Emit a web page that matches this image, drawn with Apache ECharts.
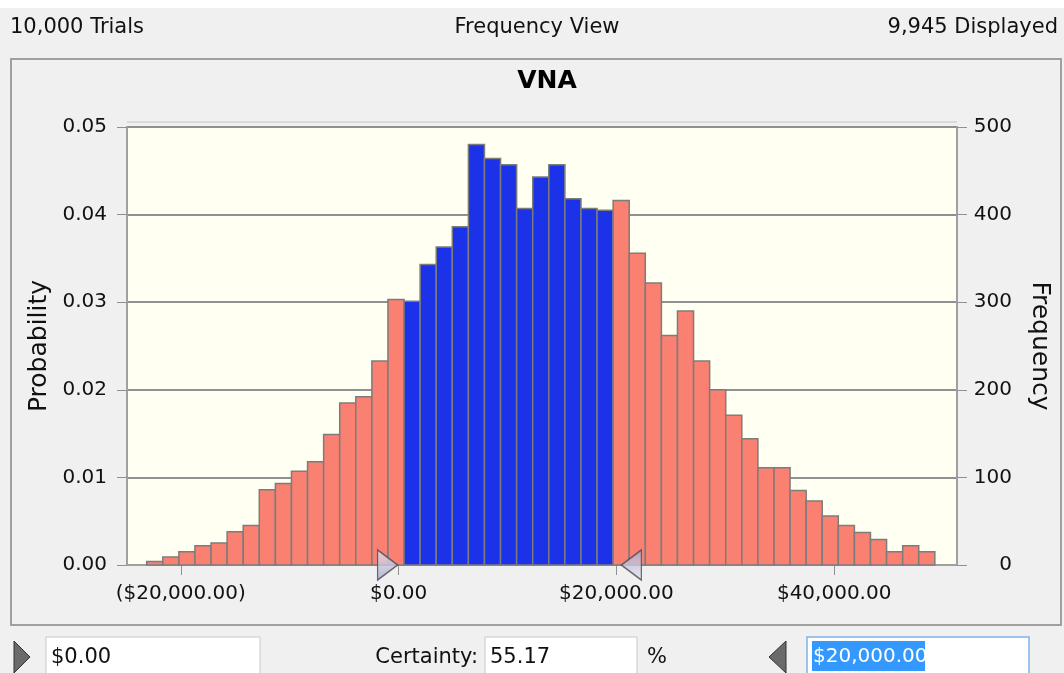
<!DOCTYPE html>
<html>
<head>
<meta charset="utf-8">
<script src="https://cdn.jsdelivr.net/npm/echarts@6/dist/echarts.min.js"></script>
<style>
  html, body { margin: 0; padding: 0; background: #f0f0f0; }
  #main { width: 1064px; height: 673px; }
</style>
</head>
<body>
<div id="main"></div>
<script>
// histogram of VNA, 49 bins (frequency per bin)
var binStart = -23130;
var binWidth = 1477;
var frequency = [
  4, 9, 15, 22, 25, 38, 45, 86, 93, 107, 118, 149, 185, 192, 233, 303,
  301, 343, 363, 386, 480, 464, 457, 407, 443, 457, 418, 407, 405,
  416, 356, 322, 262, 290, 233, 200, 171, 144, 111, 111, 85, 73, 56, 45, 37, 29, 15, 22, 15
];
var certaintyLow = 0;
var certaintyHigh = 20000;
var xTicks = [-20000, 0, 20000, 40000];
var headerTexts = ['10,000 Trials', 'Frequency View', '9,945 Displayed'];
var certaintyText = '55.17';

var FONT = 'DejaVu Sans';

function money(v) {
  var s = '$' + Math.abs(v).toLocaleString('en-US', { minimumFractionDigits: 2, maximumFractionDigits: 2 });
  return v < 0 ? '(' + s + ')' : s;
}

var bins = frequency.map(function (f, i) {
  return [binStart + i * binWidth, binStart + (i + 1) * binWidth, f];
});

var myChart = echarts.init(document.getElementById('main'));
var option;

option = {
  backgroundColor: '#f0f0f0',
  animation: false,
  title: {
    text: 'VNA',
    left: 542,
    top: 64,
    textAlign: 'center',
    textStyle: { fontFamily: FONT, fontSize: 25, fontWeight: 'bold', color: '#000' }
  },
  grid: {
    left: 127,
    right: 107,
    top: 127,
    bottom: 108,
    show: true,
    backgroundColor: '#fffff2',
    borderColor: '#a0a0a0',
    borderWidth: 2
  },
  xAxis: {
    type: 'value',
    min: -24940,
    max: 51280,
    splitLine: { show: false },
    axisLine: { show: true, onZero: false, lineStyle: { color: '#a0a0a0', width: 2 } },
    axisTick: { show: true, length: 10, customValues: xTicks, lineStyle: { color: '#909090' } },
    axisLabel: {
      customValues: xTicks,
      formatter: money,
      margin: 19,
      fontFamily: FONT,
      fontSize: 20,
      color: '#111'
    }
  },
  yAxis: [
    {
      type: 'value',
      name: 'Probability',
      nameLocation: 'middle',
      nameGap: 66,
      nameTextStyle: { fontFamily: FONT, fontSize: 25, color: '#111' },
      min: 0,
      max: 0.05,
      interval: 0.01,
      axisLine: { show: true, onZero: false, lineStyle: { color: '#a0a0a0', width: 2 } },
      axisTick: { show: true, length: 10, lineStyle: { color: '#909090' } },
      axisLabel: {
        formatter: function (v) { return v.toFixed(2); },
        margin: 20,
        fontFamily: FONT,
        fontSize: 20,
        color: '#111'
      },
      splitLine: { show: true, lineStyle: { color: '#909090', width: 2 } }
    },
    {
      type: 'value',
      name: 'Frequency',
      nameLocation: 'middle',
      nameGap: 70,
      nameRotate: -90,
      nameTextStyle: { fontFamily: FONT, fontSize: 25, color: '#111' },
      min: 0,
      max: 500,
      interval: 100,
      position: 'right',
      axisLine: { show: true, onZero: false, lineStyle: { color: '#a0a0a0', width: 2 } },
      axisTick: { show: true, length: 10, lineStyle: { color: '#909090' } },
      axisLabel: {
        margin: 17,
        formatter: function (v) { return '{n|' + v + '}'; },
        rich: {
          n: { width: 38, align: 'right', fontFamily: FONT, fontSize: 20, color: '#111' }
        }
      },
      splitLine: { show: false }
    }
  ],
  series: [
    {
      name: 'Frequency',
      type: 'custom',
      xAxisIndex: 0,
      yAxisIndex: 1,
      encode: { x: [0, 1], y: 2 },
      data: bins,
      renderItem: function (params, api) {
        var x0 = api.value(0), x1 = api.value(1), f = api.value(2);
        var top = api.coord([x0, f]);
        var bottom = api.coord([x1, 0]);
        var inside = x0 >= certaintyLow && x1 <= certaintyHigh;
        return {
          type: 'rect',
          shape: { x: top[0], y: top[1], width: bottom[0] - top[0], height: bottom[1] - top[1] },
          style: {
            fill: inside ? '#1c32e8' : '#fa8072',
            stroke: '#7c7c7c',
            lineWidth: 1.5
          }
        };
      }
    },
    {
      // certainty grabbers on the axis
      type: 'scatter',
      xAxisIndex: 0,
      yAxisIndex: 1,
      clip: false,
      z: 5,
      symbol: 'triangle',
      symbolSize: [30, 20],
      itemStyle: {
        color: new echarts.graphic.LinearGradient(0, 0, 1, 0, [
          { offset: 0, color: '#e6e6f2' },
          { offset: 1, color: '#a9a9c9' }
        ]),
        borderColor: '#4a4a58',
        borderWidth: 1.5
      },
      data: [
        { value: [certaintyLow, 0], symbolRotate: -90, symbolOffset: [-11, 0] },
        { value: [certaintyHigh, 0], symbolRotate: 90, symbolOffset: [15, 0] }
      ]
    }
  ],
  graphic: [
    { type: 'rect', left: 0, top: 0, shape: { width: 1064, height: 8 }, style: { fill: '#ffffff' }, silent: true },
    { type: 'text', x: 10, y: 17, style: { text: headerTexts[0], font: '21px ' + FONT, fill: '#111' } },
    { type: 'text', x: 537, y: 17, style: { text: headerTexts[1], font: '21px ' + FONT, fill: '#111', align: 'center' } },
    { type: 'text', x: 1058, y: 17, style: { text: headerTexts[2], font: '21px ' + FONT, fill: '#111', align: 'right' } },
    {
      type: 'rect', left: 10, top: 58, z: -10,
      shape: { width: 1050, height: 566 },
      style: { fill: '#f0f0f0', stroke: '#a0a0a0', lineWidth: 2 }
    },
    // thin light rule just above the plot
    { type: 'line', shape: { x1: 127, y1: 122, x2: 957, y2: 122 }, style: { stroke: '#c4c4c4', lineWidth: 1 } },
    // bottom controls
    { type: 'polygon', shape: { points: [[14, 641], [30, 657], [14, 673]] }, style: { fill: '#6a6a6a', stroke: '#333', lineWidth: 1 } },
    { type: 'rect', shape: { x: 46, y: 637, width: 214, height: 40 }, style: { fill: '#fff', stroke: '#c8c8c8', lineWidth: 1 } },
    { type: 'text', x: 51, y: 647, style: { text: money(certaintyLow), font: '21px ' + FONT, fill: '#111' } },
    { type: 'text', x: 478, y: 647, style: { text: 'Certainty:', font: '21px ' + FONT, fill: '#111', align: 'right' } },
    { type: 'rect', shape: { x: 485, y: 637, width: 152, height: 40 }, style: { fill: '#fff', stroke: '#c8c8c8', lineWidth: 1 } },
    { type: 'text', x: 490, y: 647, style: { text: certaintyText, font: '21px ' + FONT, fill: '#111' } },
    { type: 'text', x: 647, y: 647, style: { text: '%', font: '21px ' + FONT, fill: '#111' } },
    { type: 'polygon', shape: { points: [[786, 641], [769, 657], [786, 673]] }, style: { fill: '#6a6a6a', stroke: '#333', lineWidth: 1 } },
    { type: 'rect', shape: { x: 807, y: 637, width: 222, height: 40 }, style: { fill: '#fff', stroke: '#7eb4ea', lineWidth: 1.5 } },
    { type: 'rect', shape: { x: 812, y: 641, width: 113, height: 30 }, style: { fill: '#3399ff' } },
    { type: 'text', x: 813, y: 647, style: { text: money(certaintyHigh), font: '20px ' + FONT, fill: '#fff' } }
  ]
};

option && myChart.setOption(option);
</script>
</body>
</html>
